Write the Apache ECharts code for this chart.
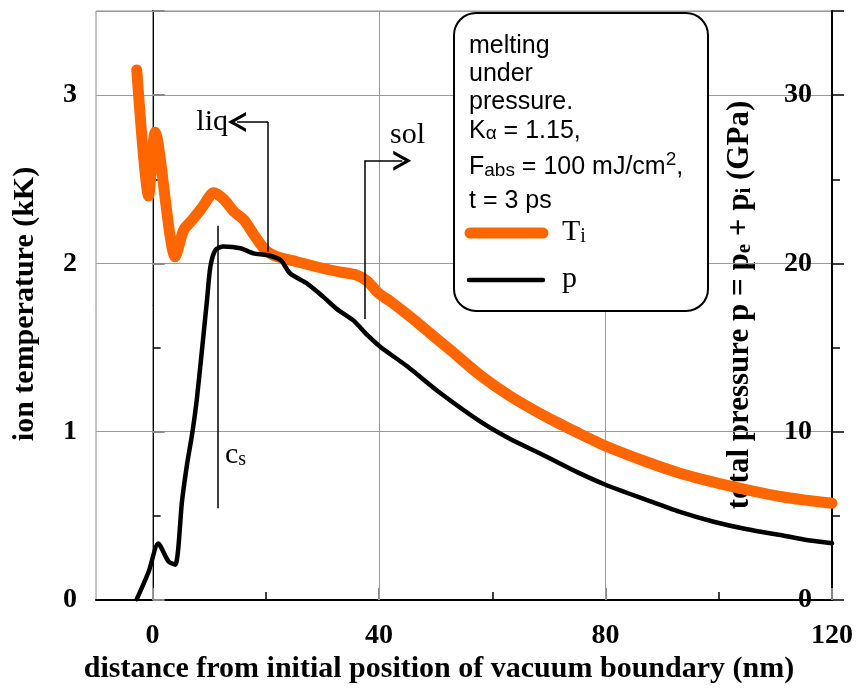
<!DOCTYPE html>
<html>
<head>
<meta charset="utf-8">
<script src="https://cdn.jsdelivr.net/npm/echarts@6/dist/echarts.min.js"></script>
<style>
  html, body { margin: 0; padding: 0; background: #fff; }
  #chart { width: 858px; height: 689px; }
</style>
</head>
<body>
<div id="chart"></div>
<script>
// ion temperature T_i (kK) along distance (nm)
const tempX = [-2.8, -0.7, 0.45, 4.0, 5.5, 6.8, 8.7, 10.8, 12.6, 14.3, 16.1, 17.9, 19.9, 22.0, 25.5, 30.2, 33.0, 36.1, 37.9, 40.0, 42.0, 46.0, 49.0, 52.6, 57.9, 63.0, 69.7, 75.0, 80.0, 87.3, 93.0, 99.1, 105.0, 110.9, 115.0, 120.0];
const tempY = [3.15, 2.40, 2.78, 2.04, 2.20, 2.25, 2.33, 2.42, 2.38, 2.31, 2.26, 2.17, 2.08, 2.04, 2.01, 1.97, 1.95, 1.93, 1.895, 1.82, 1.775, 1.67, 1.585, 1.485, 1.335, 1.215, 1.085, 0.995, 0.915, 0.82, 0.755, 0.70, 0.655, 0.615, 0.595, 0.575];

// total pressure p (GPa)
const presX = [-2.8, -0.7, 1.0, 2.8, 4.0, 5.2, 6.1, 7.0, 7.8, 8.7, 9.6, 10.2, 11.1, 12.5, 15.5, 17.8, 20.2, 22.6, 24.3, 27.3, 30.2, 32.5, 35.5, 37.9, 40.2, 44.9, 50.8, 57.9, 63.0, 69.7, 75.0, 80.0, 87.3, 93.0, 99.1, 105.0, 110.9, 115.0, 120.0];
const presY = [0.05, 1.68, 3.35, 2.3, 2.1, 5.9, 8.1, 9.9, 11.9, 14.8, 17.8, 19.8, 20.8, 21.0, 20.9, 20.6, 20.5, 20.2, 19.4, 18.8, 18.0, 17.3, 16.6, 15.75, 15.05, 13.9, 12.3, 10.6, 9.6, 8.5, 7.6, 6.85, 5.94, 5.25, 4.65, 4.2, 3.86, 3.6, 3.37];

// axis ticks
const xMinorTicks = [20, 60, 100];
const xMajorTicks = [0, 40, 80, 120];
const xGridLines = [0, 40, 80];

// annotation guides (nm, kK)
const liqGuide = [[20.4, 2.07], [20.4, 2.84], [14.9, 2.84]];
const solGuide = [[37.4, 1.67], [37.4, 2.61], [44.1, 2.61]];
const csGuide = [[11.55, 0.545], [11.55, 2.224]];

const serif = '"Liberation Serif", "Times New Roman", serif';
const sans = '"Liberation Sans", Arial, sans-serif';
const orange = '#ff6600';
const gridColor = '#9a9a9a';
const chevron = 'path://M0,14 L10,0 L20,14 L16.5,14 L10,5 L3.5,14 Z';

function pairs(xs, ys) {
    return xs.map((x, i) => [x, ys[i]]);
}

function guide(pts, arrow) {
    const out = [];
    for (let i = 0; i < pts.length - 1; i++) {
        const last = i === pts.length - 2;
        out.push([
            { coord: pts[i], symbol: 'none' },
            { coord: pts[i + 1], symbol: last && arrow ? chevron : 'none', symbolSize: [20, 18] },
        ]);
    }
    return out;
}

const chart = echarts.init(document.getElementById('chart'));

const tickLabel = { fontFamily: serif, fontWeight: 'bold', fontSize: 28, color: '#000' };

// legend box text lines, rich for sub/superscripts
const boxRich = {
    n: { fontFamily: sans, fontSize: 25, lineHeight: 30, verticalAlign: 'bottom', color: '#000' },
    s: { fontFamily: sans, fontSize: 19, lineHeight: 12, verticalAlign: 'bottom', color: '#000' },
    u: { fontFamily: sans, fontSize: 19, lineHeight: 18, verticalAlign: 'top', color: '#000' },
};
const boxLines = [
    ['{n|melting}', 43.5],
    ['{n|under}', 72],
    ['{n|pressure.}', 100],
    ['{n|K}{s|α}{n| = 1.15,}', 128.5],
    ['{n|F}{s|abs}{n| = 100 mJ/cm}{u|2}{n|,}', 165],
    ['{n|t = 3 ps}', 198.5],
];

const serifRich = {
    n: { fontFamily: serif, fontSize: 30, lineHeight: 34, verticalAlign: 'bottom', color: '#000' },
    s: { fontFamily: serif, fontSize: 20, lineHeight: 12, verticalAlign: 'bottom', color: '#000' },
};
const titleRich = {
    n: { fontFamily: serif, fontWeight: 'bold', fontSize: 31, lineHeight: 34, verticalAlign: 'bottom', color: '#000' },
    s: { fontFamily: serif, fontWeight: 'bold', fontSize: 21, lineHeight: 12, verticalAlign: 'bottom', color: '#000' },
};

const graphics = [
    {
        type: 'rect', z: 100,
        shape: { x: 454, y: 13, width: 254, height: 298, r: 22 },
        style: { fill: '#fff', stroke: '#000', lineWidth: 2 },
    },
    {
        type: 'line', z: 101,
        shape: { x1: 470, y1: 233, x2: 543, y2: 233 },
        style: { stroke: orange, lineWidth: 11, lineCap: 'round' },
    },
    {
        type: 'line', z: 101,
        shape: { x1: 469, y1: 280, x2: 543, y2: 280 },
        style: { stroke: '#000', lineWidth: 4.5, lineCap: 'round' },
    },
    {
        type: 'text', z: 101, x: 562, y: 230,
        style: { text: '{n|T}{s|i}', rich: serifRich, verticalAlign: 'middle' },
    },
    {
        type: 'text', z: 101, x: 562, y: 277,
        style: { text: '{n|p}', rich: serifRich, verticalAlign: 'middle' },
    },
    {
        type: 'text', z: 101, x: 228, y: 120,
        style: { text: '{n|liq}', rich: serifRich, align: 'right', verticalAlign: 'middle' },
    },
    {
        type: 'text', z: 101, x: 390, y: 133,
        style: { text: '{n|sol}', rich: serifRich, verticalAlign: 'middle' },
    },
    {
        type: 'text', z: 101, x: 225, y: 453,
        style: { text: '{n|c}{s|s}', rich: serifRich, verticalAlign: 'middle' },
    },
    {
        type: 'text', x: 439, y: 669,
        style: {
            text: 'distance from initial position of vacuum boundary (nm)',
            font: 'bold 30px ' + serif, fill: '#000', align: 'center', verticalAlign: 'middle',
        },
    },
    {
        type: 'text', x: 25, y: 304, rotation: Math.PI / 2,
        style: {
            text: 'ion temperature (kK)',
            font: 'bold 30px ' + serif, fill: '#000', align: 'center', verticalAlign: 'middle',
        },
    },
    {
        type: 'text', x: 738, y: 305, rotation: Math.PI / 2,
        style: {
            text: '{n|total pressure p = p}{s|e}{n| + p}{s|i}{n| (GPa)}',
            rich: titleRich, align: 'center', verticalAlign: 'middle',
        },
    },
];
boxLines.forEach(([text, y]) => {
    graphics.push({
        type: 'text', z: 101, x: 469, y: y,
        style: { text: text, rich: boxRich, verticalAlign: 'middle' },
    });
});

const option = {
    animation: false,
    backgroundColor: '#fff',
    grid: { left: 96, right: 26, top: 11, bottom: 89, show: true, borderColor: '#888', borderWidth: 1 },
    xAxis: [
        {
            type: 'value', min: -10, max: 120,
            axisLine: { lineStyle: { color: '#000', width: 2 } },
            axisTick: { inside: true, length: 8, customValues: xMinorTicks, lineStyle: { color: '#000', width: 1.5 } },
            axisLabel: Object.assign({ customValues: xMajorTicks, margin: 22 }, tickLabel),
            splitLine: { show: false },
        },
        {
            type: 'value', min: -10, max: 120, position: 'bottom',
            axisLine: { show: false },
            axisTick: { inside: true, length: 12, customValues: xMajorTicks, lineStyle: { color: '#888', width: 2 } },
            axisLabel: { show: false },
            splitLine: { show: false },
        },
    ],
    yAxis: [
        {
            type: 'value', position: 'left', min: 0, max: 3.5, interval: 0.5,
            axisLine: { show: true, lineStyle: { color: '#000', width: 2 } },
            axisTick: { show: true, inside: true, length: 8, lineStyle: { color: '#000', width: 1.5 } },
            axisLabel: Object.assign({ margin: 19, formatter: (v) => (v % 1 === 0 ? String(v) : '') }, tickLabel),
            splitLine: { show: false },
        },
        {
            type: 'value', position: 'left', min: 0, max: 3.5, interval: 1,
            axisLine: { show: false },
            axisTick: { show: true, inside: true, length: 12, lineStyle: { color: '#888', width: 2 } },
            axisLabel: { show: false },
            splitLine: { show: true, lineStyle: { color: gridColor, width: 1 } },
        },
        {
            type: 'value', position: 'right', min: 0, max: 35, interval: 5,
            axisLine: { show: true, lineStyle: { color: '#000', width: 2 } },
            axisTick: { show: true, inside: false, length: 8, lineStyle: { color: '#000', width: 1.5 } },
            axisLabel: Object.assign({ inside: true, margin: 20, formatter: (v) => (v % 10 === 0 ? String(v) : '') }, tickLabel),
            splitLine: { show: false },
        },
        {
            type: 'value', position: 'right', min: 0, max: 35, interval: 10,
            axisLine: { show: false },
            axisTick: { show: true, inside: false, length: 12, lineStyle: { color: '#000', width: 1.5 } },
            axisLabel: { show: false },
            splitLine: { show: false },
        },
    ],
    series: [
        {
            // vertical grid lines behind the curves
            type: 'line', data: [], xAxisIndex: 0, yAxisIndex: 0, silent: true,
            markLine: {
                z: 1, silent: true, symbol: 'none', animation: false,
                label: { show: false },
                lineStyle: { color: gridColor, width: 1, type: 'solid' },
                data: xGridLines.map((x) => ({ xAxis: x })),
            },
        },
        {
            name: 'T_i', type: 'line', xAxisIndex: 0, yAxisIndex: 0,
            data: pairs(tempX, tempY),
            showSymbol: false, z: 3,
            smooth: 0.25,
            lineStyle: { color: orange, width: 11, cap: 'round', join: 'round' },
            markLine: {
                silent: true, animation: false, z: 4,
                label: { show: false },
                lineStyle: { color: '#000', width: 1.5, type: 'solid' },
                data: [].concat(guide(liqGuide, true), guide(solGuide, true), guide(csGuide, false)),
            },
        },
        {
            name: 'p', type: 'line', xAxisIndex: 0, yAxisIndex: 2,
            data: pairs(presX, presY),
            showSymbol: false, z: 3,
            smooth: 0.25,
            lineStyle: { color: '#000', width: 4.5, cap: 'round', join: 'round' },
        },
    ],
    graphic: graphics,
};

chart.setOption(option);
</script>
</body>
</html>
